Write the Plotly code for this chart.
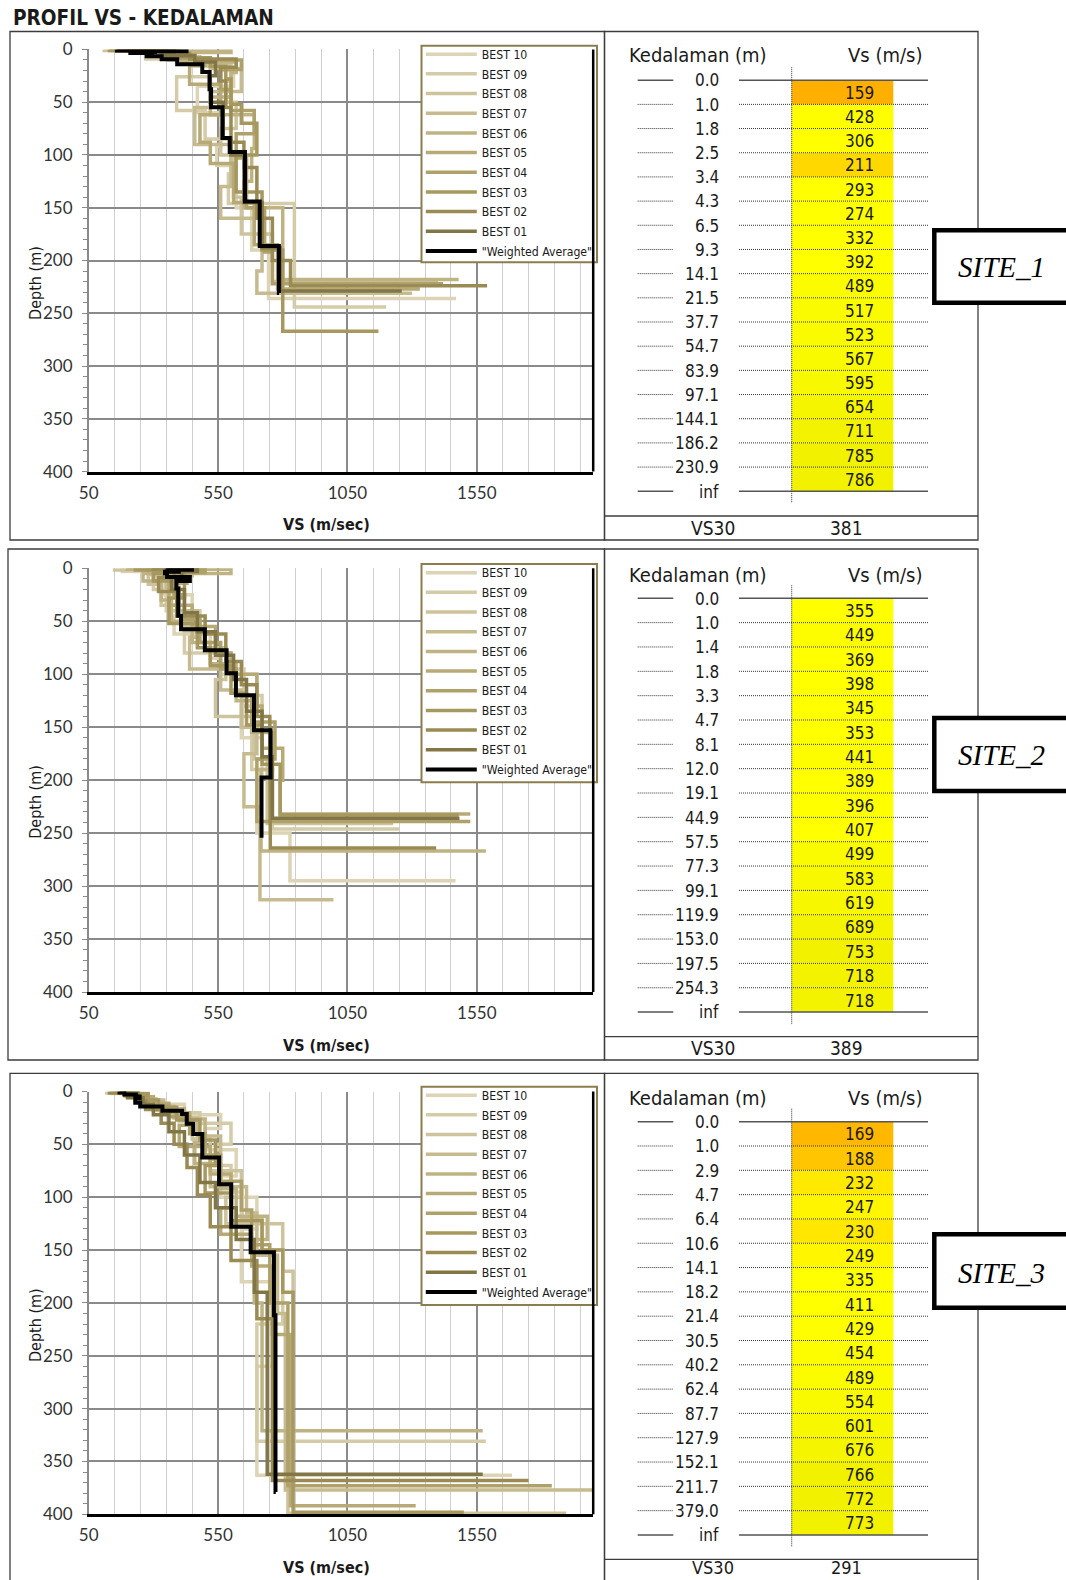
import plotly.graph_objects as go

# page is 1066x1580; the figure paper is laid out in the page's inner 8px-inset area
PAGE_W, PAGE_H = 1066, 1580
OFF = 8
W, H = PAGE_W - 2 * OFF, PAGE_H - 2 * OFF

# ---------------- data ----------------
TITLE = "PROFIL VS - KEDALAMAN"
SITE_NAMES = ["SITE_1", "SITE_2", "SITE_3"]
BEST_NAMES = ["BEST 10", "BEST 09", "BEST 08", "BEST 07", "BEST 06",
              "BEST 05", "BEST 04", "BEST 03", "BEST 02", "BEST 01"]
AVG_NAME = '"Weighted Average"'
X_TITLE = "VS (m/sec)"
Y_TITLE = "Depth (m)"
X_RANGE = [50, 2000]
Y_RANGE = [400, 0]
X_TICKS = [50, 550, 1050, 1550]
TABLE_HEAD = ["Kedalaman (m)", "Vs (m/s)"]
VS30_LABEL = "VS30"

# weighted-average profiles (layer-top depth, Vs) = table values
S1_DEPTH = [0.0, 1.0, 1.8, 2.5, 3.4, 4.3, 6.5, 9.3, 14.1, 21.5, 37.7, 54.7, 83.9, 97.1, 144.1, 186.2, 230.9]
S1_VS = [159, 428, 306, 211, 293, 274, 332, 392, 489, 517, 523, 567, 595, 654, 711, 785, 786]
S1_VS30 = 381

S2_DEPTH = [0.0, 1.0, 1.4, 1.8, 3.3, 4.7, 8.1, 12.0, 19.1, 44.9, 57.5, 77.3, 99.1, 119.9, 153.0, 197.5, 254.3]
S2_VS = [355, 449, 369, 398, 345, 353, 441, 389, 396, 407, 499, 583, 619, 689, 753, 718, 718]
S2_VS30 = 389

S3_DEPTH = [0.0, 1.0, 2.9, 4.7, 6.4, 10.6, 14.1, 18.2, 21.4, 30.5, 40.2, 62.4, 87.7, 127.9, 152.1, 211.7, 379.0]
S3_VS = [169, 188, 232, 247, 230, 249, 335, 411, 429, 454, 489, 554, 601, 676, 766, 772, 773]
S3_VS30 = 291

# individual best profiles (BEST 10 ... BEST 01): layer-top depths and Vs
S1_BEST_D = [
    [0, 2, 6, 12, 20, 35, 60, 92, 110, 150, 190, 236],
    [0, 1.5, 4, 9, 16, 26, 58, 85, 118, 146, 244],
    [0, 1, 3, 7, 14, 30, 50, 75, 100, 140, 175, 220],
    [0, 2, 5, 10, 18, 40, 55, 90, 130, 160, 210, 231],
    [0, 1, 3, 6, 12, 22, 45, 62, 94, 125, 150, 218],
    [0, 1.5, 4, 8, 15, 33, 62, 88, 108, 145, 185, 227],
    [0, 2, 5, 10, 19, 38, 58, 80, 103, 150, 192, 222],
    [0, 1, 3, 8, 16, 28, 52, 70, 100, 135, 190, 267],
    [0, 1.5, 4, 9, 17, 30, 55, 88, 112, 160, 200, 224],
    [0, 1, 3, 6, 12, 25, 50, 84, 100, 145, 188, 229],
]
S1_BEST_V = [
    [250, 350, 420, 560, 610, 470, 560, 545, 620, 680, 745, 1470],
    [170, 320, 270, 450, 520, 390, 500, 600, 590, 845, 1200],
    [110, 300, 380, 480, 600, 580, 620, 560, 610, 640, 760, 1400],
    [220, 300, 360, 520, 640, 520, 460, 600, 560, 720, 700, 1300],
    [140, 600, 330, 410, 620, 600, 520, 690, 680, 650, 800, 1480],
    [190, 400, 350, 500, 440, 560, 480, 520, 610, 690, 780, 1330],
    [240, 320, 460, 640, 560, 600, 690, 620, 660, 730, 760, 1420],
    [130, 280, 400, 520, 580, 600, 640, 700, 620, 720, 800, 1170],
    [160, 350, 440, 620, 560, 580, 600, 650, 700, 760, 830, 1590],
    [200, 380, 330, 460, 540, 520, 570, 600, 650, 720, 790, 1260],
]

S2_BEST_D = [
    [0, 3, 10, 25, 45, 62, 85, 100, 130, 160, 200, 250, 295],
    [0, 2, 8, 20, 40, 60, 80, 95, 120, 150, 190, 246],
    [0, 1.5, 6, 15, 35, 55, 75, 105, 140, 180, 241],
    [0, 2, 7, 18, 40, 65, 95, 115, 150, 175, 225, 313],
    [0, 1, 5, 12, 30, 50, 70, 90, 125, 155, 190, 267],
    [0, 2, 6, 14, 35, 55, 80, 100, 130, 170, 200, 232],
    [0, 1, 4, 10, 25, 48, 70, 95, 120, 145, 180, 239],
    [0, 1.5, 5, 12, 28, 52, 75, 92, 118, 148, 185, 233],
    [0, 1, 4, 9, 22, 45, 62, 88, 110, 140, 190, 264],
    [0, 1, 3, 8, 20, 42, 60, 82, 105, 135, 178, 236],
]
S2_BEST_V = [
    [180, 300, 340, 450, 380, 520, 560, 700, 640, 720, 700, 828, 1468],
    [250, 420, 300, 350, 480, 420, 600, 650, 720, 680, 760, 1250],
    [150, 380, 280, 330, 420, 500, 580, 540, 690, 740, 1227],
    [320, 450, 350, 400, 470, 440, 560, 640, 700, 650, 712, 996],
    [200, 600, 260, 330, 370, 450, 520, 620, 680, 760, 716, 1585],
    [280, 400, 430, 360, 450, 540, 600, 700, 720, 800, 790, 1525],
    [400, 500, 340, 380, 420, 480, 560, 620, 680, 770, 700, 1525],
    [230, 350, 300, 420, 360, 470, 520, 600, 660, 720, 790, 1480],
    [300, 420, 380, 320, 390, 500, 580, 640, 700, 750, 752, 1393],
    [350, 470, 410, 370, 420, 470, 540, 610, 660, 720, 760, 1483],
]

S3_BEST_D = [
    [0, 2, 6, 12, 22, 35, 55, 80, 100, 130, 180, 260, 363],
    [0, 1.5, 5, 10, 20, 30, 50, 70, 95, 120, 150, 220, 331],
    [0, 2, 4, 9, 18, 28, 45, 75, 100, 125, 170, 250, 399],
    [0, 1, 3, 8, 14, 25, 42, 64, 90, 115, 155, 210, 377],
    [0, 1.5, 4, 7, 16, 26, 48, 68, 92, 118, 140, 200, 321],
    [0, 2, 5, 11, 20, 32, 52, 78, 110, 135, 165, 230, 392],
    [0, 1, 3, 7, 13, 24, 40, 60, 85, 112, 145, 200, 373],
    [0, 2, 4, 8, 15, 27, 46, 70, 96, 122, 150, 190, 398],
    [0, 1.5, 4, 9, 17, 30, 50, 72, 98, 128, 160, 215, 368],
    [0, 1, 3, 6, 12, 22, 38, 60, 86, 110, 140, 190, 362],
]
S3_BEST_V = [
    [140, 220, 300, 420, 560, 500, 620, 560, 700, 640, 760, 700, 1686],
    [120, 200, 260, 330, 480, 600, 540, 600, 640, 720, 800, 700, 1585],
    [180, 260, 230, 300, 400, 450, 520, 640, 580, 800, 840, 820, 1896],
    [160, 240, 280, 340, 380, 470, 560, 520, 660, 700, 780, 810, 2100],
    [150, 230, 270, 310, 420, 500, 460, 560, 620, 740, 690, 720, 1573],
    [200, 250, 300, 360, 440, 400, 520, 600, 560, 680, 760, 830, 1314],
    [170, 210, 260, 280, 360, 440, 500, 560, 640, 680, 750, 820, 1840],
    [210, 280, 250, 320, 390, 480, 540, 500, 600, 720, 800, 840, 1500],
    [130, 190, 240, 270, 330, 380, 430, 470, 520, 600, 700, 760, 1750],
    [190, 240, 200, 260, 300, 360, 420, 480, 540, 620, 690, 740, 1573],
]

# ---------------- styles ----------------
BEST_COLORS = ["#DCD4B5", "#D4CBA8", "#CDC39C", "#C6BB90", "#BFB383",
               "#B7AA76", "#AFA16A", "#A6985F", "#998B53", "#827647"]
AVG_COLOR = "#000000"
COND = "DejaVu Sans Condensed, DejaVu Sans, sans-serif"
TICKF = "Lato, Roboto, sans-serif"
SERIF = "Liberation Serif, DejaVu Serif, serif"

# page-pixel geometry of the three panels
PANELS = [
    dict(box_top=31.5, box_bot=540.0, box_left=10.0, plot_top=49.4, plot_bot=471.6,
         legend_top=45.7, legend_bot=262.3, first_item=55.0, header_y=55.0, row0=80.2, step=24.18,
         vs30_line=516.0, vs30_y=528.3, vs30_size=19, site_top=228.0, site_bot=305.0, site_y=267.0),
    dict(box_top=549.0, box_bot=1060.0, box_left=8.0, plot_top=568.3, plot_bot=992.0,
         legend_top=564.0, legend_bot=782.3, first_item=573.5, header_y=575.0, row0=598.3, step=24.34,
         vs30_line=1036.7, vs30_y=1048.3, vs30_size=19, site_top=715.7, site_bot=793.3, site_y=755.0),
    dict(box_top=1073.3, box_bot=1600.0, box_left=10.0, plot_top=1091.5, plot_bot=1514.3,
         legend_top=1086.7, legend_bot=1305.0, first_item=1096.0, header_y=1098.3, row0=1121.7, step=24.31,
         vs30_line=1559.3, vs30_y=1567.5, vs30_size=18, site_top=1232.0, site_bot=1310.0, site_y=1273.0),
]
PLOT_LEFT, PLOT_RIGHT = 88.7, 593.2
TABLE_RIGHT = 978.0
LEG_LEFT, LEG_RIGHT = 421.5, 597.0


def fx(x):
    return (x - OFF) / W


def fy(y):
    return 1 - (y - OFF) / H


def step_path(depths, vs):
    xs, ys = [], []
    for i in range(len(vs)):
        xs.append(vs[i]); ys.append(depths[i])
        if i + 1 < len(depths):
            xs.append(vs[i]); ys.append(depths[i + 1])
    return xs, ys


def cell_color(v):
    stops = [(150, (255, 168, 0)), (260, (255, 255, 0)), (400, (255, 255, 0)), (800, (240, 240, 0))]
    if v <= stops[0][0]:
        c = stops[0][1]
    elif v >= stops[-1][0]:
        c = stops[-1][1]
    else:
        for (a, ca), (b, cb) in zip(stops[:-1], stops[1:]):
            if a <= v <= b:
                t = (v - a) / (b - a)
                c = tuple(ca[k] + (cb[k] - ca[k]) * t for k in range(3))
                break
    return "rgb(%d,%d,%d)" % tuple(round(x) for x in c)


SITES = [
    (S1_DEPTH, S1_VS, S1_VS30, S1_BEST_D, S1_BEST_V),
    (S2_DEPTH, S2_VS, S2_VS30, S2_BEST_D, S2_BEST_V),
    (S3_DEPTH, S3_VS, S3_VS30, S3_BEST_D, S3_BEST_V),
]

fig = go.Figure()
shapes, annotations = [], []
layout = {}


def note(text, x, y, size, family=COND, xanchor="center", angle=0, color="#1a1a1a"):
    annotations.append(dict(text=text, x=fx(x), y=fy(y), xref="paper", yref="paper",
                            xanchor=xanchor, yanchor="middle", showarrow=False, textangle=angle,
                            font=dict(family=family, size=size, color=color)))


def pline(x0, x1, y0, y1, line, layer="below"):
    shapes.append(dict(type="line", xref="paper", yref="paper", x0=fx(x0), x1=fx(x1),
                       y0=fy(y0), y1=fy(y1), line=line, layer=layer))


note("<b>" + TITLE + "</b>", 11.0, 17.5, 20.6, xanchor="left")

for k, (depth, vs, vs30, bd, bv) in enumerate(SITES):
    g = PANELS[k]
    sfx = "" if k == 0 else str(k + 1)
    xa, ya, lg = "x" + sfx, "y" + sfx, "legend" + sfx

    for j in range(len(BEST_NAMES)):
        xs, ys = step_path(bd[j], bv[j])
        fig.add_trace(go.Scatter(x=xs, y=ys, mode="lines", name=BEST_NAMES[j],
                                 legendgroup="s%d_%d" % (k, j),
                                 line=dict(color=BEST_COLORS[j], width=3.5),
                                 xaxis=xa, yaxis=ya, legend=lg, hoverinfo="skip"))
    xs, ys = step_path(depth, vs)
    fig.add_trace(go.Scatter(x=xs, y=ys, mode="lines", name=AVG_NAME,
                             legendgroup="s%d_avg" % k,
                             line=dict(color=AVG_COLOR, width=4),
                             xaxis=xa, yaxis=ya, legend=lg, hoverinfo="skip"))

    layout["xaxis" + sfx] = dict(
        domain=[fx(PLOT_LEFT), fx(PLOT_RIGHT)], anchor=ya, range=X_RANGE,
        tickmode="array", tickvals=X_TICKS, ticks="",
        showgrid=True, gridcolor="#8a8a8a", gridwidth=1.5,
        minor=dict(tickmode="linear", tick0=50, dtick=100, showgrid=True,
                   gridcolor="#cfcfcf", gridwidth=1.2, ticks=""),
        showline=True, linecolor="black", linewidth=2.5, zeroline=False,
        tickfont=dict(family=TICKF, size=17, color="#333333"),
        ticklabelstandoff=4, automargin=False, fixedrange=True)
    layout["yaxis" + sfx] = dict(
        domain=[fy(g["plot_bot"]), fy(g["plot_top"])], anchor=xa, range=Y_RANGE,
        tick0=0, dtick=50, ticks="outside", ticklen=5, tickcolor="#8a8a8a",
        showgrid=True, gridcolor="#8a8a8a", gridwidth=1.5,
        minor=dict(dtick=10, ticks="outside", ticklen=4, tickcolor="#8a8a8a", showgrid=False),
        showline=True, linecolor="#8a8a8a", linewidth=1.5, zeroline=False,
        tickfont=dict(family=TICKF, size=17, color="#333333"),
        ticklabelstandoff=6, automargin=False, fixedrange=True)
    layout[lg] = dict(x=fx(420.8), xanchor="left", y=fy(g["first_item"] - 15.3), yanchor="top",
                      bgcolor="rgba(0,0,0,0)", borderwidth=0, traceorder="grouped",
                      font=dict(family=COND, size=12.2, color="#1a1a1a"),
                      itemwidth=51, tracegroupgap=0.67)

    # legend frame (white box with olive border)
    shapes.append(dict(type="rect", xref="paper", yref="paper", x0=fx(LEG_LEFT), x1=fx(LEG_RIGHT),
                       y0=fy(g["legend_top"]), y1=fy(g["legend_bot"]), fillcolor="white",
                       line=dict(color="#8B7D4E", width=2), layer="above"))
    # right black frame line of plot area
    shapes.append(dict(type="line", xref=xa + " domain", yref=ya + " domain",
                       x0=1, x1=1, y0=0, y1=1, line=dict(color="black", width=2.5), layer="above"))

    # axis titles
    note("<b>" + X_TITLE + "</b>", 326.5, g["plot_bot"] + 53, 16)
    note(Y_TITLE, 35.5, g["plot_top"] + 234, 16, angle=-90)

    # outer boxes
    for x0, x1 in ((g["box_left"], 604.5), (604.5, TABLE_RIGHT)):
        shapes.append(dict(type="rect", xref="paper", yref="paper", x0=fx(x0), x1=fx(x1),
                           y0=fy(g["box_top"]), y1=fy(g["box_bot"]),
                           line=dict(color="#3c3c3c", width=1.3), layer="below"))
    pline(604.5, TABLE_RIGHT, g["vs30_line"], g["vs30_line"], dict(color="#3c3c3c", width=1.3))

    # table headers
    note(TABLE_HEAD[0], 697.5, g["header_y"], 20)
    note(TABLE_HEAD[1], 885, g["header_y"], 20)

    n = len(depth)
    rows = [g["row0"] + i * g["step"] for i in range(n + 1)]
    for i in range(n):
        shapes.append(dict(type="rect", xref="paper", yref="paper", x0=fx(791.7), x1=fx(893.3),
                           y0=fy(rows[i]), y1=fy(rows[i + 1]), fillcolor=cell_color(vs[i]),
                           line=dict(width=0), layer="below"))
        note(str(vs[i]), 859, (rows[i] + rows[i + 1]) / 2 + 0.6, 17)
    labels = ["%.1f" % d for d in depth] + ["inf"]
    for i in range(n + 1):
        solid = (i == 0 or i == n)
        ln = dict(color="#555555", width=1.5) if solid else dict(color="#333333", width=1, dash="1px,1px")
        pline(637.7, 673.3, rows[i], rows[i], ln)
        pline(739, 928, rows[i], rows[i], ln)
        note(labels[i], 720.5, rows[i] + 0.3, 17, xanchor="right")
    pline(791.7, 791.7, rows[0] - 13, rows[n] + 12, dict(color="#333333", width=1, dash="1px,1px"))

    # VS30 row
    note(VS30_LABEL, 713, g["vs30_y"], g["vs30_size"])
    note(str(vs30), 846, g["vs30_y"], g["vs30_size"])

    # site label box
    shapes.append(dict(type="rect", xref="paper", yref="paper", x0=fx(934.3), x1=fx(1085),
                       y0=fy(g["site_top"] + 2.3), y1=fy(g["site_bot"] - 2.3), fillcolor="white",
                       line=dict(color="black", width=4.5), layer="above"))
    note("<i>" + SITE_NAMES[k] + "</i>", 1001, g["site_y"], 29, family=SERIF, color="black")

layout.update(dict(width=W, height=H, margin=dict(l=0, r=0, t=0, b=0, pad=0, autoexpand=False),
                   paper_bgcolor="white", plot_bgcolor="white", showlegend=True,
                   shapes=shapes, annotations=annotations))
fig.update_layout(**layout)

# once drawn: drop the body margin and grow the figure to the full page with an 8px frame,
# so the paper area stays where it is and the page edges are drawn too
POST = ("document.body.style.margin='0';"
        "var gd=document.getElementById('{plot_id}');"
        "Plotly.relayout(gd,{width:%d,height:%d,'margin.l':%d,'margin.r':%d,'margin.t':%d,'margin.b':%d});"
        % (PAGE_W, PAGE_H, OFF, OFF, OFF, OFF))

fig.write_html("out.html", config={"displayModeBar": False}, post_script=POST)
